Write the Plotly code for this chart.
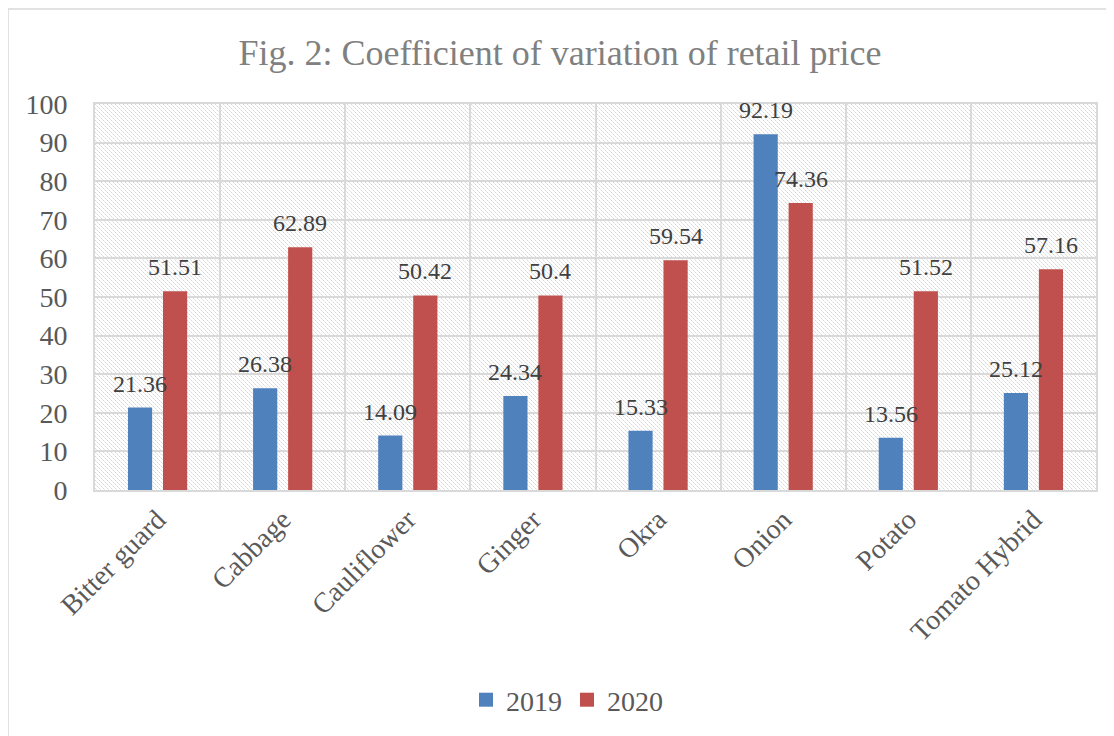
import base64
import plotly.graph_objects as go

categories = ["Bitter guard", "Cabbage", "Cauliflower", "Ginger", "Okra", "Onion", "Potato", "Tomato Hybrid"]
values_2019 = [21.36, 26.38, 14.09, 24.34, 15.33, 92.19, 13.56, 25.12]
values_2020 = [51.51, 62.89, 50.42, 50.4, 59.54, 74.36, 51.52, 57.16]
series_names = ["2019", "2020"]
y_ticks = list(range(0, 101, 10))

W, H = 1114, 736
OFF = 8  # page body offset
ML, MT = 95 - OFF, 104 - OFF
PW, PH = 1096 - 95, 490 - 104
MR, MB = W - ML - PW, H - MT - PH

# hatch pattern background (light downward diagonal)
svg = (
    f'<svg xmlns="http://www.w3.org/2000/svg" width="{PW}" height="{PH}" shape-rendering="crispEdges">'
    '<defs><pattern id="p" width="4" height="4" patternUnits="userSpaceOnUse">'
    '<rect x="0" y="0" width="1" height="1" fill="#d8d8d8"/>'
    '<rect x="1" y="1" width="1" height="1" fill="#e8e8e8"/>'
    '<rect x="2" y="2" width="1" height="1" fill="#d8d8d8"/>'
    '<rect x="3" y="3" width="1" height="1" fill="#e8e8e8"/>'
    '</pattern></defs>'
    f'<rect width="{PW}" height="{PH}" fill="white"/>'
    f'<rect width="{PW}" height="{PH}" fill="url(#p)"/></svg>'
)
svg_uri = "data:image/svg+xml;base64," + base64.b64encode(svg.encode()).decode()

font = "Liberation Serif"
colors = ["#4f81bd", "#c0504d"]
lab_font = dict(family=font, size=24, color="#404040")

fig = go.Figure()
for name, vals, col in zip(series_names, [values_2019, values_2020], colors):
    fig.add_trace(go.Bar(
        x=categories, y=vals, name=name, showlegend=False,
        marker=dict(color=col, line=dict(width=0)),
    ))
for name, col in zip(series_names, colors):
    fig.add_trace(go.Scatter(
        x=[None], y=[None], mode="markers", name=name,
        marker=dict(symbol="square", size=14, color=col),
    ))

# data labels, centred over each bar of the group
slot_px = 35.0
annotations = []
for i, vals in enumerate([values_2019, values_2020]):
    for cat, v in zip(categories, vals):
        annotations.append(dict(
            x=cat, y=v, xref="x", yref="y", text=f"{v:g}", showarrow=False,
            xanchor="center", yanchor="bottom", xshift=(i - 0.5) * slot_px, yshift=9,
            font=lab_font,
        ))

fig.update_layout(
    width=W, height=H,
    margin=dict(l=ML, r=MR, t=MT, b=MB, autoexpand=False),
    paper_bgcolor="white", plot_bgcolor="rgba(0,0,0,0)",
    barmode="group", bargap=0.44, bargroupgap=0.31,
    title=dict(text="Fig. 2: Coefficient of variation of retail price",
               x=(560 - OFF) / W, xref="container", xanchor="center",
               y=1 - (52 - OFF) / H, yref="container", yanchor="middle",
               font=dict(family=font, size=36, color="#808080")),
    font=dict(family=font, color="#595959"),
    showlegend=True,
    legend=dict(orientation="h", x=(567 - OFF - ML) / PW, xanchor="center",
                y=-(700 - OFF - (MT + PH)) / PH, yanchor="middle",
                font=dict(family=font, size=28, color="#595959"),
                itemwidth=30, tracegroupgap=0, bgcolor="rgba(0,0,0,0)"),
    annotations=annotations,
    images=[dict(source=svg_uri, xref="paper", yref="paper", x=0, y=1,
                 sizex=1, sizey=1, sizing="stretch", layer="below",
                 xanchor="left", yanchor="top")],
    shapes=[dict(type="rect", xref="paper", yref="paper",
                 x0=(8 - OFF - ML) / PW, x1=1.2, y0=-1.0, y1=1 + (MT - (9 - OFF)) / PH,
                 line=dict(color="#d9d9d9", width=1.5), fillcolor="rgba(0,0,0,0)",
                 layer="below")],
)
fig.update_xaxes(
    type="category", tickson="boundaries", showgrid=True, gridcolor="#d9d9d9", gridwidth=2,
    showline=True, linecolor="#d9d9d9", linewidth=2, mirror=True, ticks="",
    tickangle=-45, tickfont=dict(family=font, size=28, color="#595959"),
)
fig.update_yaxes(
    range=[0, 100], tickvals=y_ticks, showgrid=True, gridcolor="#d9d9d9", gridwidth=2,
    showline=True, linecolor="#d9d9d9", linewidth=2, mirror=True, ticks="",
    zeroline=False, ticklabelstandoff=20,
    tickfont=dict(family=font, size=28, color="#595959"),
)

fig.write_html("out.html")
